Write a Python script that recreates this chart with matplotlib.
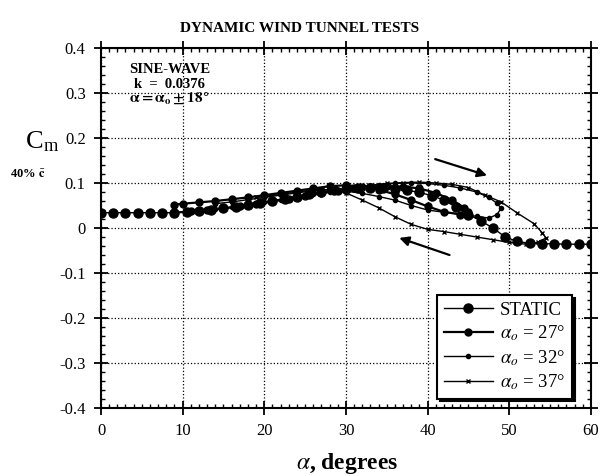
import matplotlib
matplotlib.use("Agg")
import matplotlib.pyplot as plt
from matplotlib.ticker import MultipleLocator
from matplotlib import rcParams

rcParams['font.family'] = 'serif'
rcParams['font.serif'] = ['Liberation Serif', 'DejaVu Serif']
rcParams['mathtext.fontset'] = 'stix'

# static curve
static_alpha = [0, 1.5, 3, 4.5, 6, 7.5, 9, 10.5, 12, 13.5, 15, 16.5, 18, 19.5, 21,
                22.5, 24, 25.5, 27, 28.5, 30, 31.5, 33, 34.5, 36, 37.5, 39, 40.5,
                42, 43.5, 45, 46.5, 48, 49.5, 51, 52.5, 54, 55.5, 57, 58.5, 60]
static_cm = [0.034, 0.034, 0.034, 0.034, 0.034, 0.034, 0.034, 0.036, 0.038, 0.041,
             0.044, 0.047, 0.051, 0.055, 0.060, 0.065, 0.070, 0.075, 0.080, 0.084,
             0.087, 0.090, 0.090, 0.089, 0.087, 0.084, 0.079, 0.072, 0.062, 0.046,
             0.030, 0.016, 0.000, -0.020, -0.030, -0.034, -0.035, -0.035, -0.036,
             -0.036, -0.036]

# alpha_o = 27 deg loop (upstroke then downstroke)
a27_alpha = [9, 11, 13, 15, 17, 19, 21, 23, 25, 27, 29, 31, 33, 35, 37, 39, 41, 43,
             44.5, 45, 44, 42, 40, 38, 36, 34, 32, 30, 28, 26, 24, 22, 20, 18, 16,
             14, 12, 10, 9]
a27_cm = [0.034, 0.037, 0.040, 0.044, 0.048, 0.053, 0.059, 0.065, 0.071, 0.077,
          0.083, 0.088, 0.091, 0.093, 0.092, 0.088, 0.078, 0.062, 0.045, 0.035,
          0.030, 0.036, 0.048, 0.062, 0.075, 0.085, 0.092, 0.095, 0.093, 0.088,
          0.083, 0.078, 0.073, 0.068, 0.064, 0.060, 0.057, 0.054, 0.052]

# alpha_o = 32 deg loop
a32_alpha = [14, 16, 18, 20, 22, 24, 26, 28, 30, 32, 34, 36, 38, 40, 42, 44, 46,
             47.5, 48.5, 49, 48.5, 47.5, 46, 44, 42, 40, 38, 36, 34, 32, 30, 28,
             26, 24, 22, 20, 18, 16, 14]
a32_cm = [0.042, 0.046, 0.051, 0.057, 0.063, 0.069, 0.075, 0.081, 0.087, 0.092,
          0.096, 0.099, 0.100, 0.099, 0.095, 0.089, 0.080, 0.068, 0.055, 0.044,
          0.030, 0.022, 0.026, 0.031, 0.035, 0.040, 0.050, 0.062, 0.070, 0.077,
          0.082, 0.085, 0.083, 0.078, 0.073, 0.068, 0.063, 0.058, 0.054]

# alpha_o = 37 deg loop
a37_alpha = [19, 21, 23, 25, 27, 29, 31, 33, 35, 37, 39, 41, 43, 45, 47, 49, 51, 53,
             54, 54.5, 53.5, 52, 50, 48, 46, 44, 42, 40, 38, 36, 34, 32, 30, 28,
             26, 24, 22, 20, 19]
a37_cm = [0.056, 0.061, 0.067, 0.073, 0.079, 0.085, 0.090, 0.095, 0.099, 0.101,
          0.102, 0.100, 0.097, 0.090, 0.073, 0.058, 0.033, 0.010, -0.010, -0.022,
          -0.032, -0.036, -0.032, -0.026, -0.020, -0.014, -0.008, -0.003, 0.008,
          0.025, 0.045, 0.062, 0.078, 0.085, 0.085, 0.080, 0.075, 0.070, 0.068]

fig = plt.figure(figsize=(6.03, 4.76), dpi=100)
ax = fig.add_axes([0.1675, 0.143, 0.8125, 0.756])

ax.plot(static_alpha, static_cm, '-o', color='black', lw=1.0, ms=6.5, label='STATIC')
ax.plot(a27_alpha, a27_cm, '-o', color='black', lw=1.6, ms=5,
        label=r'$\alpha_o$ = 27°')
ax.plot(a32_alpha, a32_cm, '-o', color='black', lw=1.0, ms=3,
        label=r'$\alpha_o$ = 32°')
ax.plot(a37_alpha, a37_cm, '-x', color='black', lw=1.0, ms=3.5, mew=1.0,
        label=r'$\alpha_o$ = 37°')

# direction arrows
ax.annotate('', xy=(47.6, 0.115), xytext=(40.6, 0.155),
            arrowprops=dict(arrowstyle='-|>', color='black', lw=1.6,
                            mutation_scale=14))
ax.annotate('', xy=(36.2, -0.020), xytext=(43.0, -0.062),
            arrowprops=dict(arrowstyle='-|>', color='black', lw=1.6,
                            mutation_scale=14))

ax.set_xlim(0, 60)
ax.set_ylim(-0.4, 0.4)
ax.xaxis.set_major_locator(MultipleLocator(10))
ax.xaxis.set_minor_locator(MultipleLocator(1))
ax.yaxis.set_major_locator(MultipleLocator(0.1))
ax.yaxis.set_minor_locator(MultipleLocator(0.02))
ax.yaxis.set_major_formatter(plt.FuncFormatter(lambda v, p: '0' if abs(v) < 1e-9 else f'{v:.1f}'))
ax.tick_params(which='major', direction='inout', length=10, width=1.3,
               top=True, right=True, labelsize=12, pad=6)
ax.tick_params(which='minor', direction='in', length=3, width=1.0,
               top=True, right=True)
for s in ax.spines.values():
    s.set_linewidth(1.5)
ax.grid(True, which='major', ls=':', color='black', lw=0.9)

ax.text(0.14, 0.94, 'SINE-WAVE', transform=ax.transAxes, ha='center',
        va='center', fontsize=10.5, fontweight='bold')
ax.text(0.14, 0.90, 'k  =  0.0376', transform=ax.transAxes, ha='center',
        va='center', fontsize=10.5, fontweight='bold')
ax.text(0.14, 0.86, r'$\mathbf{\alpha = \alpha_o \pm 18°}$', transform=ax.transAxes,
        ha='center', va='center', fontsize=11)

leg = ax.legend(loc='lower right', bbox_to_anchor=(0.98, 0.0), frameon=True,
                fancybox=False, edgecolor='black', fontsize=13.5, handlelength=2.6,
                borderpad=0.35, labelspacing=0.25, handletextpad=0.4,
                shadow={'color': 'black', 'alpha': 1.0})
leg.get_frame().set_linewidth(1.5)

fig.text(0.497, 0.941, 'DYNAMIC WIND TUNNEL TESTS', ha='center', va='center',
         fontsize=11, fontweight='bold')
fig.text(0.07, 0.703, r'C$_{\mathregular{m}}$', ha='center', va='center',
         fontsize=19)
fig.text(0.046, 0.632, r'40% $\bar{\mathbf{c}}$', ha='center', va='center',
         fontsize=9, fontweight='bold')
fig.text(0.575, 0.027, r'$\alpha$, degrees', ha='center', va='center',
         fontsize=17, fontweight='bold')

fig.savefig('out.png', dpi=100)
